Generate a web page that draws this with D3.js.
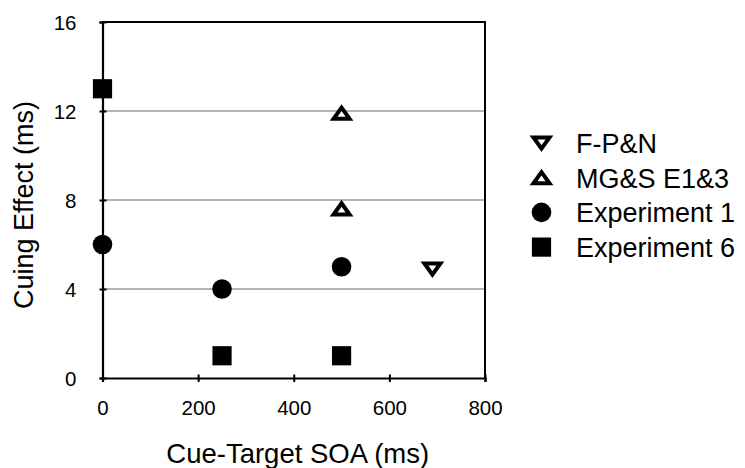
<!DOCTYPE html>
<html>
<head>
<meta charset="utf-8">
<script src="https://cdn.jsdelivr.net/npm/d3@7"></script>
<style>
  body { margin: 0; background: #fff; }
  text { font-family: "Liberation Sans", Arial, Helvetica, sans-serif; fill: #000; }
</style>
</head>
<body>
<div id="chart"></div>
<script>
// series values
var fpnX = [690], fpnY = [4.9];
var mgsX = [500, 500], mgsY = [11.9, 7.6];
var exp1X = [0, 250, 500], exp1Y = [6, 4, 5];
var exp6X = [0, 250, 500], exp6Y = [13, 1, 1];

var xTicks = [0, 200, 400, 600, 800];
var yTicks = [0, 4, 8, 12, 16];
var legendNames = ["F-P&N", "MG&S E1&3", "Experiment 1", "Experiment 6"];
var legendShapes = ["down", "up", "circle", "square"];

var width = 745, height = 468;

var svg = d3.select("#chart").append("svg")
  .attr("width", width)
  .attr("height", height);

var x = d3.scaleLinear().domain([0, 800]).range([102.5, 485]);
var y = d3.scaleLinear().domain([0, 16]).range([378, 22]);

// gridlines
svg.append("g")
  .selectAll("line")
  .data(yTicks.filter(function(d) { return d > 0 && d < 16; }))
  .enter().append("line")
    .attr("x1", x(0)).attr("x2", x(800))
    .attr("y1", function(d) { return y(d); })
    .attr("y2", function(d) { return y(d); })
    .attr("stroke", "#b3b3b3")
    .attr("stroke-width", 2);

// top and right frame
svg.append("path")
  .attr("d", "M" + x(0) + "," + y(16) + "H" + x(800) + "V" + y(0))
  .attr("fill", "none")
  .attr("stroke", "#000")
  .attr("stroke-width", 2);

var xAxis = svg.append("g")
  .attr("transform", "translate(0," + y(0) + ")")
  .call(d3.axisBottom(x).tickValues(xTicks).tickSize(4).tickPadding(18).tickFormat(d3.format("d")));

var yAxis = svg.append("g")
  .attr("transform", "translate(" + x(0) + ",0)")
  .call(d3.axisLeft(y).tickValues(yTicks).tickSize(3).tickPadding(23).tickFormat(d3.format("d")));

xAxis.selectAll(".tick line").attr("y1", -3.5).attr("y2", 4).attr("stroke-width", 2);
yAxis.selectAll(".tick line").attr("x1", 4).attr("x2", -3).attr("stroke-width", 2);
[xAxis, yAxis].forEach(function(a) {
  a.select(".domain").attr("stroke-width", 2.2);
  a.selectAll(".tick text").style("font-size", "20.5px").attr("font-family", null);
});
yAxis.selectAll(".tick text").attr("dy", "0.36em");

// marker shapes
function markerPath(shape) {
  if (shape === "down") return "M-8,-5.6L8,-5.6L0,5.6Z";
  if (shape === "up") return "M-8,5.6L8,5.6L0,-5.6Z";
  if (shape === "square") return "M-9.6,-9.6H9.6V9.6H-9.6Z";
  return d3.symbol().type(d3.symbolCircle).size(Math.PI * 9.8 * 9.8)();
}
function styleMarker(sel, shape) {
  if (shape === "down" || shape === "up") {
    sel.attr("fill", "#fff").attr("stroke", "#000").attr("stroke-width", 4).attr("stroke-linejoin", "miter");
  } else {
    sel.attr("fill", "#000").attr("stroke", "none");
  }
}

var series = [
  {shape: "down", xs: fpnX, ys: fpnY},
  {shape: "up", xs: mgsX, ys: mgsY},
  {shape: "circle", xs: exp1X, ys: exp1Y},
  {shape: "square", xs: exp6X, ys: exp6Y}
];

series.forEach(function(s) {
  var pts = s.xs.map(function(v, i) { return [v, s.ys[i]]; });
  svg.append("g").selectAll("path")
    .data(pts)
    .enter().append("path")
      .attr("d", markerPath(s.shape))
      .attr("transform", function(d) { return "translate(" + x(d[0]) + "," + y(d[1]) + ")"; })
      .call(styleMarker, s.shape);
});

// axis titles
svg.append("text")
  .attr("x", x(400) + 4)
  .attr("y", 463)
  .attr("text-anchor", "middle")
  .style("font-size", "27.5px")
  .text("Cue-Target SOA (ms)");

svg.append("text")
  .attr("transform", "translate(33," + 205 + ") rotate(-90)")
  .attr("text-anchor", "middle")
  .style("font-size", "27px")
  .text("Cuing Effect (ms)");

// legend
var legend = svg.append("g")
  .selectAll("g")
  .data(legendNames)
  .enter().append("g")
    .attr("transform", function(d, i) { return "translate(541.5," + (143 + i * 34.7) + ")"; });

legend.append("path")
  .attr("d", function(d, i) { return markerPath(legendShapes[i]); })
  .each(function(d, i) { d3.select(this).call(styleMarker, legendShapes[i]); });

legend.append("text")
  .attr("x", 34.5)
  .attr("y", 9.8)
  .style("font-size", "27px")
  .text(function(d) { return d; });
</script>
</body>
</html>
